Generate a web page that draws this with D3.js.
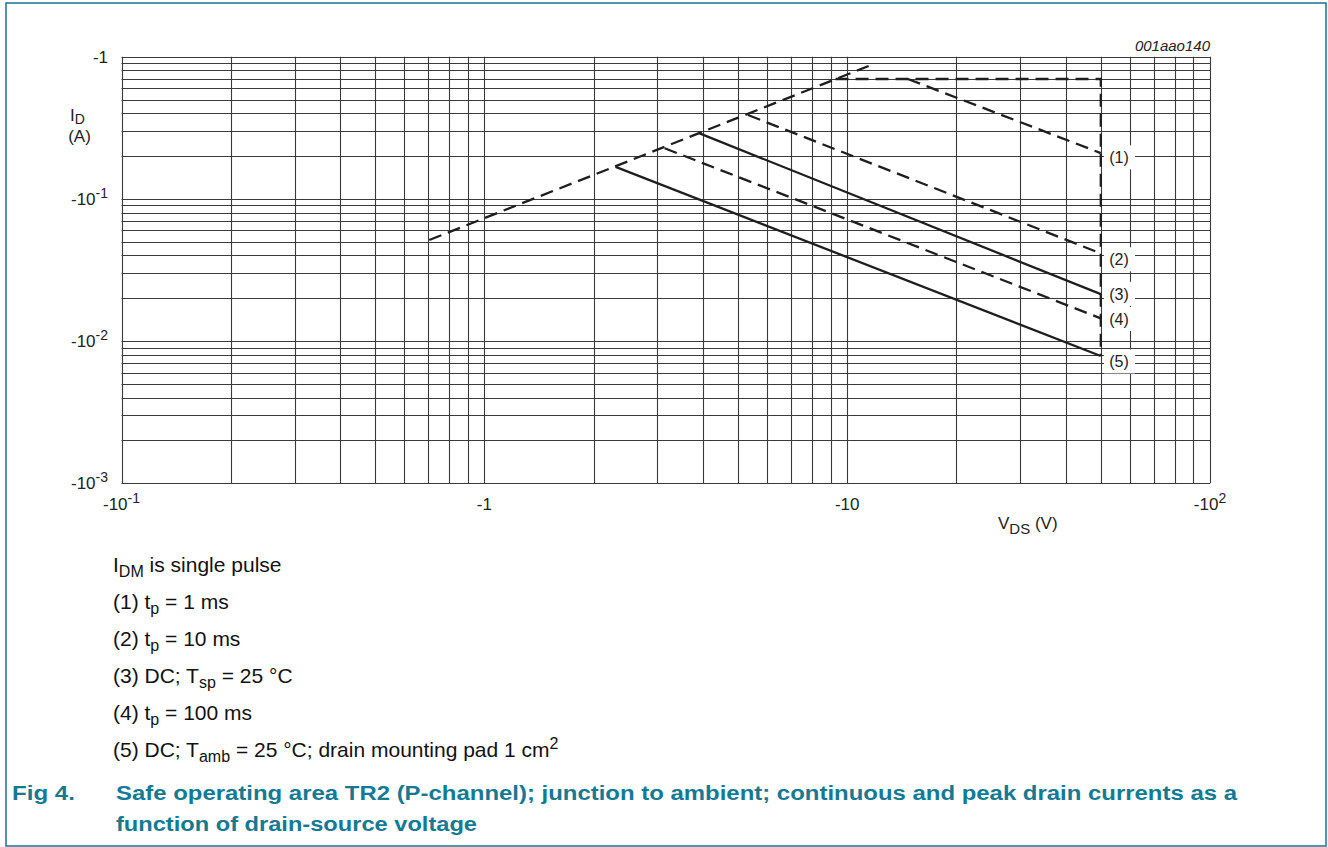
<!DOCTYPE html>
<html><head><meta charset="utf-8">
<script src="https://cdn.jsdelivr.net/npm/d3@7"></script>
<style>
html,body{margin:0;padding:0;background:#fff;}
svg{display:block;font-family:"Liberation Sans",Arial,sans-serif;}
</style></head>
<body>
<svg id="c" width="1328" height="847"></svg>
<script>
// ---- data (absolute values; axes are negative) ----
const xDecades = [0.1, 1, 10, 100];
const xTickLabels = [["-10","-1"], ["-1",""], ["-10",""], ["-10","2"]];
const yDecades = [0.001, 0.01, 0.1, 1];
const yTickLabels = [["-10","-3"], ["-10","-2"], ["-10","-1"], ["-1",""]];

// R_DSon limit line
const limitV = [0.705, 11.46];
const limitI = [0.0514, 0.86];
// outer boundary (Imax horizontal and Vmax vertical)
const boundV = [9.29, 50, 50];
const boundI = [0.697, 0.697, 0.00785];
// curves
const curveNames = ["(1)", "(2)", "(3)", "(4)", "(5)"];
const curveDashed = [true, true, false, true, false];
const curveV = [[14.7, 50], [5.33, 50], [3.92, 50], [3.14, 50], [2.30, 50]];
const curveI = [[0.697, 0.21], [0.389, 0.0414], [0.289, 0.0214], [0.227, 0.01446], [0.168, 0.00785]];
const labelI = [0.196, 0.0376, 0.0215, 0.0143, 0.0072];

const legendLines = [
  [["I",""],["DM","sub"],[" is single pulse",""]],
  [["(1) t",""],["p","sub"],[" = 1 ms",""]],
  [["(2) t",""],["p","sub"],[" = 10 ms",""]],
  [["(3) DC; T",""],["sp","sub"],[" = 25 °C",""]],
  [["(4) t",""],["p","sub"],[" = 100 ms",""]],
  [["(5) DC; T",""],["amb","sub"],[" = 25 °C; drain mounting pad 1 cm",""],["2","sup"]]
];
const captionFig = "Fig 4.";
const captionLines = ["Safe operating area TR2 (P-channel); junction to ambient; continuous and peak drain currents as a",
                      "function of drain-source voltage"];

// ---- drawing ----
const svg = d3.select("#c");
const teal = "#147a93";
svg.append("rect").attr("x",6).attr("y",3).attr("width",1320).attr("height",843)
  .attr("fill","none").attr("stroke","#1a7391").attr("stroke-width",1.5);

const x = d3.scaleLog().domain([0.1,100]).range([121.5,1210]);
const y = d3.scaleLog().domain([0.001,1]).range([483.3,56.7]);

const g = svg.append("g");
// grid
const xGrid = [], yGrid = [];
for (let d of [0.1,1,10]) for (let k=1;k<10;k++) xGrid.push(d*k);
xGrid.push(100);
for (let d of [0.001,0.01,0.1]) for (let k=1;k<10;k++) yGrid.push(d*k);
yGrid.push(1);
const px = v => Math.round(x(v)) + 0.5;
const py = v => Math.round(y(v)) + 0.5;
g.selectAll("line.vx").data(xGrid).join("line").attr("class","vx")
  .attr("x1",px).attr("x2",px).attr("y1",y(1)).attr("y2",y(0.001))
  .attr("stroke","#3a3a3a").attr("stroke-width",1.1);
g.selectAll("line.hy").data(yGrid).join("line").attr("class","hy")
  .attr("y1",py).attr("y2",py).attr("x1",x(0.1)).attr("x2",x(100))
  .attr("stroke","#3a3a3a").attr("stroke-width",1.1);

// tick labels
const tl = svg.append("g").attr("font-size",17).attr("fill","#222");
xDecades.forEach((v,i)=>{
  const t = tl.append("text").attr("x",x(v)).attr("y",510).attr("text-anchor","middle");
  t.append("tspan").text(xTickLabels[i][0]);
  if (xTickLabels[i][1]) t.append("tspan").attr("dy",-7).attr("font-size",14).text(xTickLabels[i][1]);
});
yDecades.forEach((v,i)=>{
  const t = tl.append("text").attr("x",108).attr("y",y(v)+6).attr("text-anchor","end");
  t.append("tspan").text(yTickLabels[i][0]);
  if (yTickLabels[i][1]) t.append("tspan").attr("dy",-7).attr("font-size",14).text(yTickLabels[i][1]);
});
// axis titles
const yt = tl.append("text").attr("x",70).attr("y",121);
yt.append("tspan").text("I");
yt.append("tspan").attr("dy",3).attr("font-size",14).text("D");
tl.append("text").attr("x",79.5).attr("y",142).attr("text-anchor","middle").text("(A)");
const xt = tl.append("text").attr("x",998).attr("y",529);
xt.append("tspan").text("V");
xt.append("tspan").attr("dy",5).attr("font-size",15).text("DS");
xt.append("tspan").attr("dy",-5).text(" (V)");
tl.append("text").attr("x",1210).attr("y",51).attr("text-anchor","end")
  .attr("font-size",15).attr("font-style","italic").text("001aao140");

// curves
const line = d3.line().x(d=>x(d[0])).y(d=>y(d[1]));
const ink = "#1e1e1e";
const dash = "13,7";
g.append("path").datum(limitV.map((v,i)=>[v,limitI[i]])).attr("d",line)
  .attr("fill","none").attr("stroke",ink).attr("stroke-width",2.3).attr("stroke-dasharray",dash);
g.append("path").datum(boundV.map((v,i)=>[v,boundI[i]])).attr("d",line)
  .attr("fill","none").attr("stroke",ink).attr("stroke-width",2.3).attr("stroke-dasharray",dash);
curveV.forEach((vs,j)=>{
  g.append("path").datum(vs.map((v,i)=>[v,curveI[j][i]])).attr("d",line)
    .attr("fill","none").attr("stroke",ink).attr("stroke-width",2.3)
    .attr("stroke-dasharray",curveDashed[j]?dash:null);
});
// curve labels with white boxes
curveNames.forEach((n,j)=>{
  const cy = y(labelI[j]);
  g.append("rect").attr("x",1104).attr("y",cy-12).attr("width",31).attr("height",24).attr("fill","#fff");
  g.append("text").attr("x",1119).attr("y",cy+6).attr("text-anchor","middle")
    .attr("font-size",16).attr("fill","#222").text(n);
});

// legend
const lg = svg.append("g").attr("font-size",21).attr("fill","#111");
legendLines.forEach((parts,i)=>{
  const t = lg.append("text").attr("x",113).attr("y",572 + i*37);
  let shift = 0;
  parts.forEach(p=>{
    const s = t.append("tspan").text(p[0]);
    if (p[1]==="sub"){ s.attr("font-size",16).attr("dy",5-shift); shift=5; }
    else if (p[1]==="sup"){ s.attr("font-size",16).attr("dy",-8-shift); shift=-8; }
    else { if (shift) s.attr("dy",-shift); shift=0; }
  });
});

// caption
const cg = svg.append("g").attr("font-size",20).attr("font-weight","bold").attr("fill",teal);
cg.append("text").attr("x",12).attr("y",800).attr("textLength",63).attr("lengthAdjust","spacingAndGlyphs").text(captionFig);
cg.append("text").attr("x",116).attr("y",800).attr("textLength",1121).attr("lengthAdjust","spacingAndGlyphs").text(captionLines[0]);
cg.append("text").attr("x",116).attr("y",831).attr("textLength",361).attr("lengthAdjust","spacingAndGlyphs").text(captionLines[1]);
</script>
</body></html>
